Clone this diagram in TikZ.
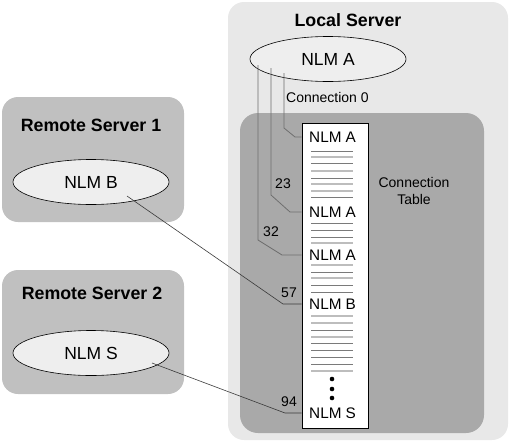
\documentclass[tikz,border=0pt]{standalone}
\usepackage{fontspec}
\setmainfont{Liberation Sans}
\usetikzlibrary{shapes.geometric}
\definecolor{outerbg}{HTML}{E8E8E8}
\definecolor{innerbg}{HTML}{A9A9A9}
\definecolor{remotebg}{HTML}{C0C0C0}
\definecolor{ellfill}{HTML}{EEEEEE}
\definecolor{rowdark}{HTML}{7A7A7A}
\definecolor{rowlight}{HTML}{BDBDBD}
\definecolor{lconncol}{HTML}{6E6E6E}
\definecolor{rconncol}{HTML}{3A3A3A}
\begin{document}
\begin{tikzpicture}[x=1pt,y=-1pt,
  titlefont/.style={font=\bfseries\fontsize{17.8}{20}\selectfont},
  nlm/.style={ellipse, draw=black, line width=0.6pt, fill=ellfill, minimum width=156pt, minimum height=45pt, inner sep=0pt, font=\fontsize{17.5}{19}\selectfont},
  entry/.style={anchor=west, inner sep=2pt, font=\fontsize{15.3}{18}\selectfont},
  lbl/.style={inner sep=1pt, font=\fontsize{14}{17}\selectfont},
  tablebox/.style={draw=black, line width=0.7pt, fill=white, inner sep=0pt, minimum width=66pt, minimum height=305pt},
  lconn/.style={draw=lconncol, line width=0.8pt},
  rconn/.style={draw=rconncol, line width=0.6pt},
  rowd/.style={draw=rowdark, line width=0.9pt},
  rowl/.style={draw=rowlight, line width=1.5pt}]
\useasboundingbox (0,0) rectangle (510,442);
% backgrounds
\fill[outerbg, rounded corners=16pt] (228,2) rectangle (508,440);
\fill[innerbg, rounded corners=18pt] (240,113) rectangle (484,433);
\fill[remotebg, rounded corners=16pt] (2,97) rectangle (184,222);
\fill[remotebg, rounded corners=16pt] (2,270) rectangle (184,394);
% titles and NLMs
\node[titlefont] (ls) at (348,20) {Local Server};
\node[nlm] (nlmA) at (328,59) {NLM A};
\node[titlefont] (rs1) at (91,125) {Remote Server 1};
\node[nlm] (nlmB) at (91,182) {NLM B};
\node[titlefont] (rs2) at (92,293) {Remote Server 2};
\node[nlm] (nlmS) at (91,353) {NLM S};
% table
\node[tablebox] (tab) at (335,275.5) {};
\node[entry] (eA1) at (307,137) {NLM A};
\node[entry] (eA2) at (307,212) {NLM A};
\node[entry] (eA3) at (307,255) {NLM A};
\node[entry] (eB) at (307,304) {NLM B};
\node[entry] (eS) at (307,413) {NLM S};
\foreach \y/\s in {151/rowd,157/rowl,163/rowd,171/rowl,178/rowd,184/rowl,191/rowl,197/rowd,
                   223/rowd,230/rowd,237/rowd,243/rowl,
                   265/rowl,272/rowd,278/rowl,285/rowd,292/rowd,
                   316/rowl,323/rowl,330/rowd,337/rowl,343/rowd,350/rowd,357/rowd,364/rowd,371/rowl}
  \draw[\s] (311,\y) -- (353,\y);
\foreach \y in {379,389,398} \fill (332,\y) circle (2.3pt);
% labels
\node[lbl, anchor=west] (c0) at (285,97) {Connection 0};
\node[lbl] (l23) at (283,184) {23};
\node[lbl] (l32) at (271,232) {32};
\node[lbl] (l57) at (289,293) {57};
\node[lbl] (l94) at (289,402) {94};
\node[lbl, align=center] (ct) at (414,191) {Connection\\Table};
% local connectors
\coordinate (a1t) at (284,73); \coordinate (a1b) at (284,128); \coordinate (a1c) at (295,137);
\coordinate (a2t) at (271,68); \coordinate (a2b) at (271,195); \coordinate (a2c) at (290,212);
\coordinate (a3t) at (258,65); \coordinate (a3b) at (258,240); \coordinate (a3c) at (282,255);
\draw[lconn] (a1t) -- (a1b) -- (a1c) -- (eA1.west -| tab.west);
\draw[lconn] (a2t) -- (a2b) -- (a2c) -- (eA2.west -| tab.west);
\draw[lconn] (a3t) -- (a3b) -- (a3c) -- (eA3.west -| tab.west);
% remote connectors
\coordinate (bs) at (127,196); \coordinate (bc) at (283,304);
\coordinate (ss) at (152,363); \coordinate (sc) at (285,413);
\draw[rconn] (bs) -- (bc) -- (eB.west -| tab.west);
\draw[rconn] (ss) -- (sc) -- (eS.west -| tab.west);
\end{tikzpicture}
\end{document}
